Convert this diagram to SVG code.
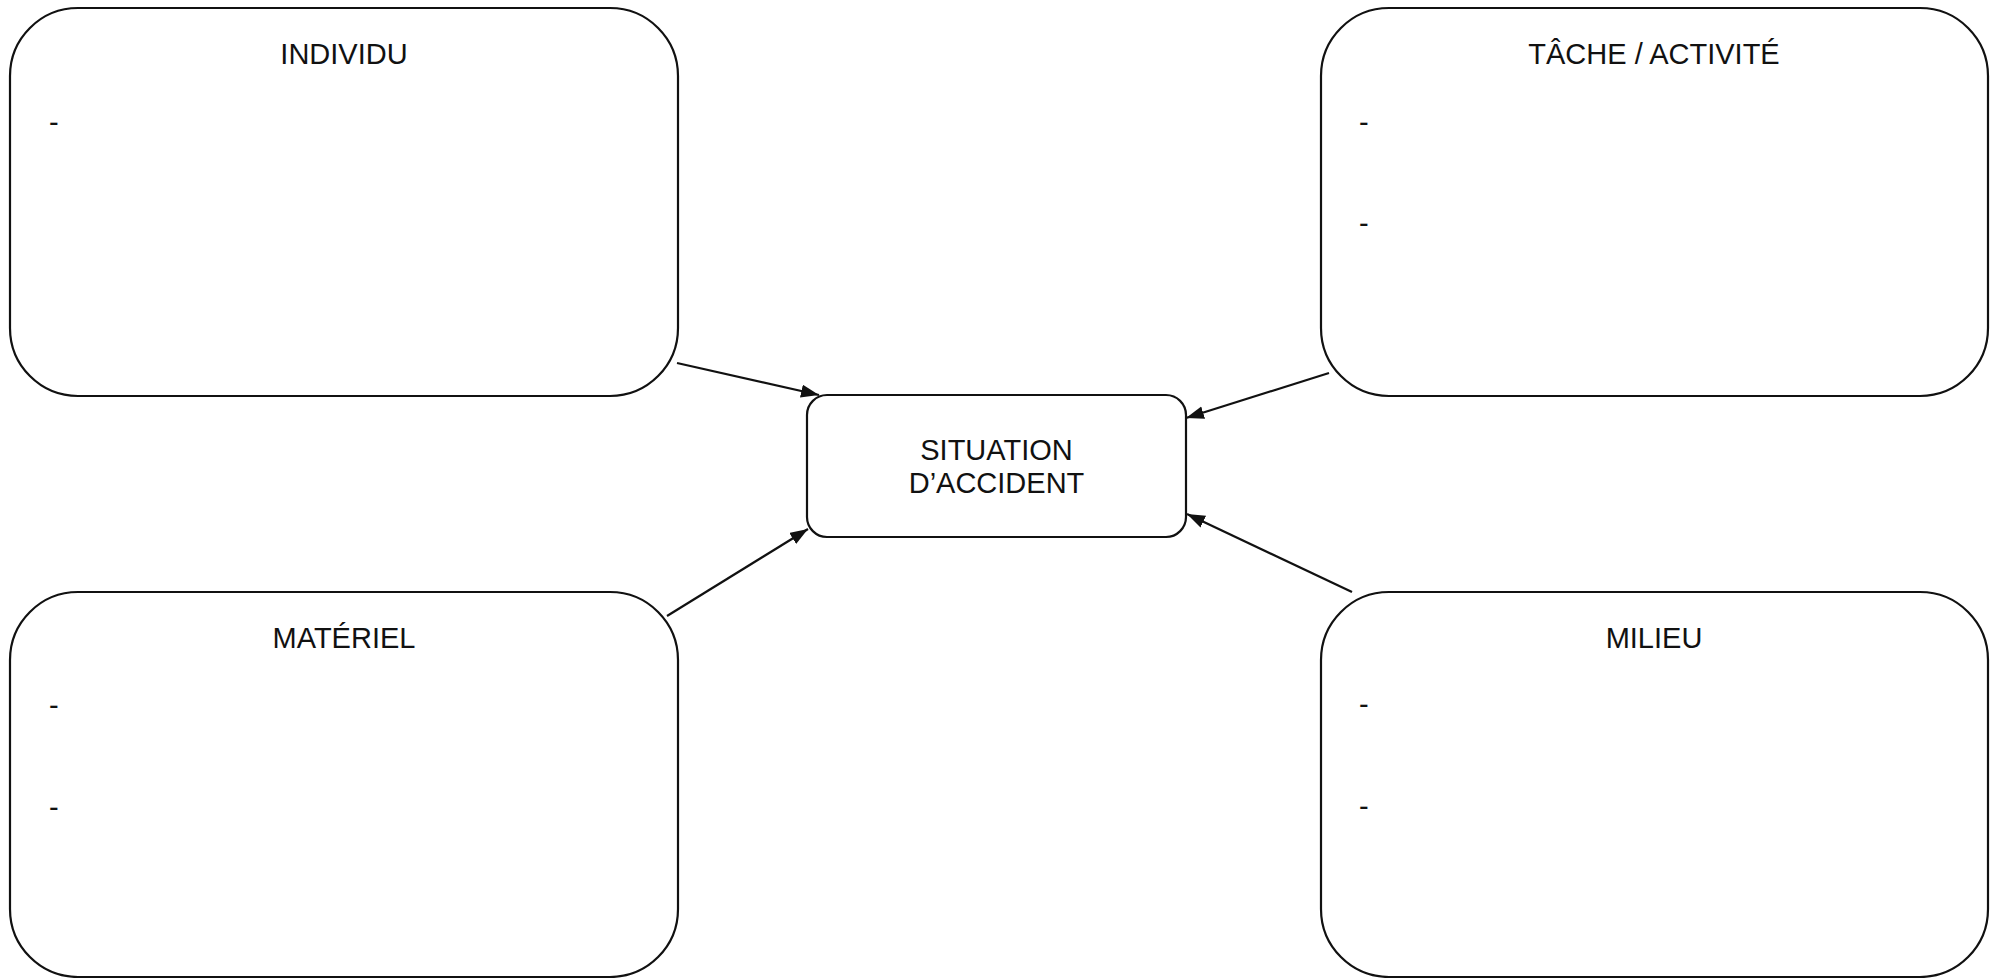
<svg xmlns="http://www.w3.org/2000/svg" width="1996" height="978" viewBox="0 0 1996 978">
<style>
.box{fill:#fff;stroke:#111;stroke-width:2.2}
.t{font-family:"Liberation Sans",Arial,sans-serif;font-size:29px;fill:#111}
.m{text-anchor:middle}
.c{stroke:#111;stroke-width:2.2;fill:none}
</style>
<defs>
<marker id="ah" markerUnits="userSpaceOnUse" markerWidth="20" markerHeight="14" refX="18" refY="6.5" orient="auto">
<path d="M0,0 L18,6.5 L0,13 z" fill="#111"/>
</marker>
</defs>
<rect width="1996" height="978" fill="#fff"/>
<g id="connectors">
<line class="c" x1="677" y1="363" x2="819" y2="395" marker-end="url(#ah)"/>
<line class="c" x1="1329" y1="373" x2="1186" y2="418" marker-end="url(#ah)"/>
<line class="c" x1="667" y1="616" x2="808" y2="529" marker-end="url(#ah)"/>
<line class="c" x1="1352" y1="592" x2="1187" y2="514" marker-end="url(#ah)"/>
</g>
<g id="individu">
<rect class="box" x="10" y="8" width="668" height="388" rx="68" ry="68"/>
<text class="t m" x="344" y="64">INDIVIDU</text>
<text class="t" x="49" y="132">-</text>
</g>
<g id="tache">
<rect class="box" x="1321" y="8" width="667" height="388" rx="68" ry="68"/>
<text class="t m" x="1654" y="64">TÂCHE / ACTIVITÉ</text>
<text class="t" x="1359" y="132">-</text>
<text class="t" x="1359" y="233">-</text>
</g>
<g id="materiel">
<rect class="box" x="10" y="592" width="668" height="385" rx="68" ry="68"/>
<text class="t m" x="344" y="648">MATÉRIEL</text>
<text class="t" x="49" y="715">-</text>
<text class="t" x="49" y="817">-</text>
</g>
<g id="milieu">
<rect class="box" x="1321" y="592" width="667" height="385" rx="68" ry="68"/>
<text class="t m" x="1654" y="648">MILIEU</text>
<text class="t" x="1359" y="714">-</text>
<text class="t" x="1359" y="816">-</text>
</g>
<g id="situation">
<rect class="box" x="807" y="395" width="379" height="142" rx="20" ry="20"/>
<text class="t m" x="996.5" y="460">SITUATION</text>
<text class="t m" x="996.5" y="493">D’ACCIDENT</text>
</g>
</svg>
